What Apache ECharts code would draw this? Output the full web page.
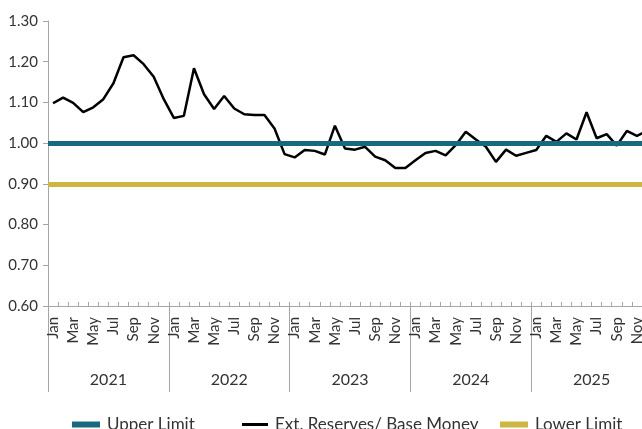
<!DOCTYPE html>
<html>
<head>
<meta charset="utf-8">
<script src="https://cdn.jsdelivr.net/npm/echarts@6/dist/echarts.min.js"></script>
<style>
  html, body { margin: 0; padding: 0; background: #fff; }
  #main { width: 642px; height: 429px; }
</style>
</head>
<body>
<div id="main"></div>
<script>
// month labels, one per point, Jan 2021 .. Dec 2025
var monthNames = ['Jan','Feb','Mar','Apr','May','Jun','Jul','Aug','Sep','Oct','Nov','Dec'];
var years = ['2021', '2022', '2023', '2024', '2025'];
var months = [];
years.forEach(function (y) {
    monthNames.forEach(function (m) { months.push(m + ' ' + y); });
});

// Ext. Reserves / Base Money ratio
var reserves2021 = [1.098, 1.112, 1.099, 1.076, 1.088, 1.108, 1.147, 1.211, 1.216, 1.194, 1.163, 1.108];
var reserves2022 = [1.062, 1.067, 1.184, 1.120, 1.084, 1.116, 1.085, 1.071, 1.069, 1.069, 1.036, 0.973];
var reserves2023 = [0.965, 0.983, 0.981, 0.972, 1.043, 0.987, 0.984, 0.991, 0.967, 0.958, 0.939, 0.939];
var reserves2024 = [0.958, 0.976, 0.981, 0.970, 0.995, 1.028, 1.009, 0.991, 0.954, 0.984, 0.969, 0.976];
var reserves2025 = [0.983, 1.018, 1.003, 1.024, 1.009, 1.076, 1.012, 1.022, 0.994, 1.030, 1.018, 1.030];
var reserves = [].concat(reserves2021, reserves2022, reserves2023, reserves2024, reserves2025);

var UPPER_LIMIT = 1.00;
var LOWER_LIMIT = 0.90;

var FONT = 'Lato';
var TEXT = '#333333';
var AXIS = '#a6a6a6';
var TEAL = '#176a7e';
var GOLD = '#cdb641';

var myChart = echarts.init(document.getElementById('main'));

function limitSeries(name, value, color) {
    return {
        name: name,
        type: 'line',
        data: [],
        z: 2,
        itemStyle: { color: color },
        lineStyle: { color: color, width: 5 },
        markLine: {
            silent: true,
            symbol: 'none',
            label: { show: false },
            lineStyle: { color: color, width: 5, type: 'solid' },
            data: [{ yAxis: value }]
        }
    };
}

function legendAt(left, name, icon, w, h) {
    return {
        left: left,
        top: 411,
        icon: icon,
        itemWidth: w,
        itemHeight: h,
        itemGap: 0,
        data: [name],
        textStyle: { fontFamily: FONT, fontSize: 17, color: TEXT, padding: [0, 0, 0, 2] }
    };
}

var option = {
    animation: false,
    textStyle: { fontFamily: FONT },
    // plot runs past the right edge of the picture (Dec 2025 is clipped)
    grid: { left: 48, top: 21, width: 604, height: 285, containLabel: false, outerBoundsMode: 'none' },
    legend: [
        legendAt(67, 'Upper Limit', 'rect', 28, 6),
        legendAt(237, 'Ext. Reserves/ Base Money', 'path://M0,0 L26,0 L26,3 L0,3 Z', 26, 3),
        legendAt(495, 'Lower Limit', 'rect', 28, 6)
    ],
    xAxis: [
        {
            type: 'category',
            data: months,
            boundaryGap: true,
            axisLine: { show: true, lineStyle: { color: AXIS, width: 1 } },
            axisTick: { show: true, inside: true, length: 4, interval: 0, lineStyle: { color: AXIS } },
            axisLabel: {
                interval: 1,
                rotate: 90,
                margin: 11,
                fontFamily: FONT,
                fontSize: 15,
                color: TEXT,
                formatter: function (v) { return v.split(' ')[0]; }
            },
            splitLine: { show: false }
        },
        {
            type: 'category',
            data: years,
            position: 'bottom',
            boundaryGap: true,
            axisLine: { show: false },
            axisTick: { show: true, length: 86, interval: 0, lineStyle: { color: AXIS } },
            axisLabel: { margin: 66, fontFamily: FONT, fontSize: 16, color: TEXT },
            splitLine: { show: false }
        }
    ],
    yAxis: {
        type: 'value',
        min: 0.6,
        max: 1.3,
        interval: 0.1,
        axisLine: { show: true, lineStyle: { color: AXIS, width: 1 } },
        axisTick: { show: true, length: 5, lineStyle: { color: AXIS } },
        axisLabel: {
            margin: 10,
            fontFamily: FONT,
            fontSize: 15,
            color: TEXT,
            formatter: function (v) { return v.toFixed(2); }
        },
        splitLine: { show: false }
    },
    series: [
        limitSeries('Upper Limit', UPPER_LIMIT, TEAL),
        {
            name: 'Ext. Reserves/ Base Money',
            type: 'line',
            data: reserves,
            z: 3,
            symbol: 'none',
            smooth: false,
            itemStyle: { color: '#000000' },
            lineStyle: { color: '#000000', width: 2.5 }
        },
        limitSeries('Lower Limit', LOWER_LIMIT, GOLD)
    ]
};

myChart.setOption(option);
</script>
</body>
</html>
